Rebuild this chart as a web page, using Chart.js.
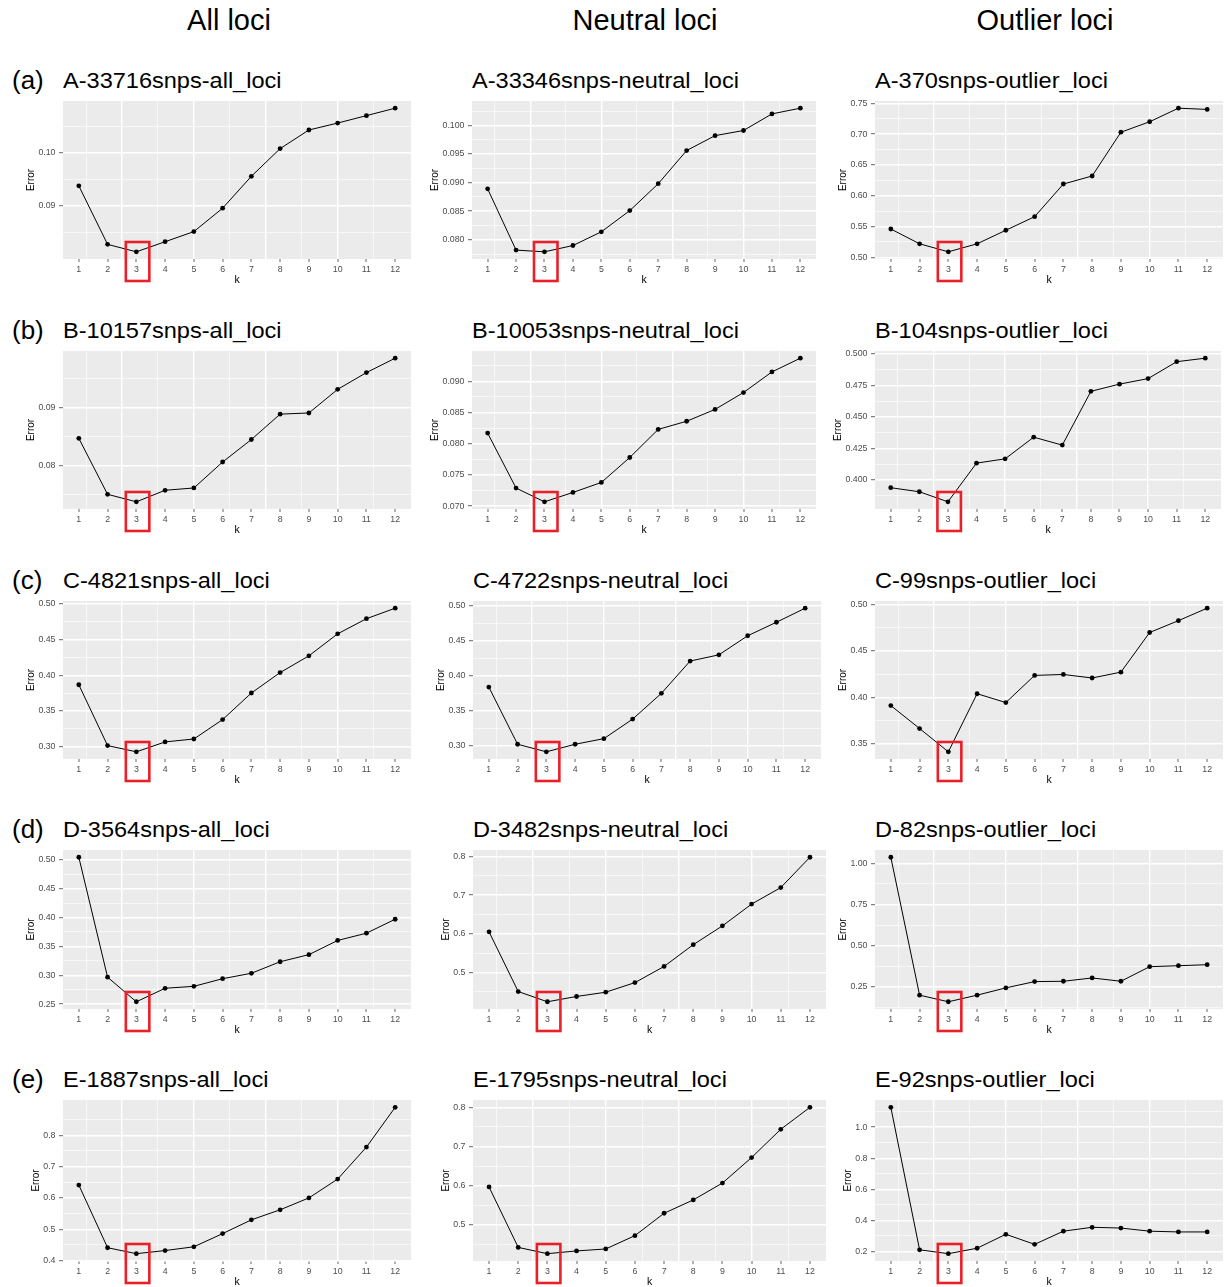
<!DOCTYPE html>
<html>
<head>
<meta charset="utf-8">
<script src="https://cdn.jsdelivr.net/npm/chart.js@4.4.1/dist/chart.umd.min.js"></script>
<style>
  html, body { margin: 0; padding: 0; background: #fff; }
  body { width: 1228px; height: 1287px; position: relative; overflow: hidden;
         font-family: "Liberation Sans", Arial, Helvetica, sans-serif; color: #000; }
  .col-head { position: absolute; font-size: 29px; line-height: 29px; white-space: nowrap; transform: translateX(-50%); }
  .row-lab { position: absolute; font-size: 26px; line-height: 26px; white-space: nowrap; }
  .ptitle { position: absolute; font-size: 22px; line-height: 22px; white-space: nowrap;
            transform-origin: 0 0; transform: scaleX(1.07); }
  canvas { position: absolute; }
</style>
</head>
<body>
<script>
// ---- data -------------------------------------------------------------
const kValues = [1, 2, 3, 4, 5, 6, 7, 8, 9, 10, 11, 12];
const highlightK = 3;

const columnHeads = ['All loci', 'Neutral loci', 'Outlier loci'];
const rowLabels = ['(a)', '(b)', '(c)', '(d)', '(e)'];

const errA_all     = [0.0938, 0.0828, 0.0814, 0.0833, 0.0852, 0.0896, 0.0956, 0.1008, 0.1043, 0.1056, 0.1070, 0.1084];
const errA_neutral = [0.0889, 0.0782, 0.0779, 0.0790, 0.0814, 0.0851, 0.0898, 0.0956, 0.0982, 0.0991, 0.1020, 0.1030];
const errA_outlier = [0.546, 0.522, 0.509, 0.522, 0.544, 0.566, 0.619, 0.632, 0.703, 0.720, 0.742, 0.740];

const errB_all     = [0.0847, 0.0750, 0.0737, 0.0757, 0.0761, 0.0806, 0.0845, 0.0889, 0.0891, 0.0932, 0.0961, 0.0986];
const errB_neutral = [0.0817, 0.0729, 0.0707, 0.0722, 0.0738, 0.0778, 0.0823, 0.0836, 0.0855, 0.0882, 0.0915, 0.0937];
const errB_outlier = [0.3938, 0.3906, 0.3826, 0.4133, 0.4167, 0.4339, 0.4276, 0.4703, 0.4760, 0.4804, 0.4938, 0.4966];

const errC_all     = [0.3867, 0.3018, 0.2931, 0.3069, 0.3110, 0.3381, 0.3752, 0.4037, 0.4271, 0.4578, 0.4789, 0.4936];
const errC_neutral = [0.3836, 0.3019, 0.2911, 0.3019, 0.3099, 0.3378, 0.3746, 0.4207, 0.4296, 0.4568, 0.4761, 0.4962];
const errC_outlier = [0.3912, 0.3665, 0.3415, 0.4039, 0.3944, 0.4236, 0.4246, 0.4208, 0.4271, 0.4697, 0.4824, 0.4958];

const errD_all     = [0.5046, 0.2966, 0.2540, 0.2774, 0.2808, 0.2940, 0.3034, 0.3234, 0.3357, 0.3603, 0.3729, 0.3971];
const errD_neutral = [0.6051, 0.4504, 0.4239, 0.4376, 0.4487, 0.4735, 0.5154, 0.5718, 0.6205, 0.6769, 0.7197, 0.7983];
const errD_outlier = [1.038, 0.1976, 0.1573, 0.1976, 0.2419, 0.2802, 0.2823, 0.3024, 0.2823, 0.371, 0.377, 0.3831];

const errE_all     = [0.641, 0.441, 0.422, 0.432, 0.444, 0.486, 0.530, 0.562, 0.600, 0.660, 0.762, 0.889];
const errE_neutral = [0.597, 0.443, 0.427, 0.434, 0.439, 0.473, 0.530, 0.564, 0.607, 0.672, 0.744, 0.800];
const errE_outlier = [1.128, 0.210, 0.185, 0.220, 0.310, 0.245, 0.330, 0.355, 0.350, 0.330, 0.325, 0.325];

// y-axis tick labels of each panel
const ticksA_all     = ['0.09', '0.10'];
const ticksA_neutral = ['0.080', '0.085', '0.090', '0.095', '0.100'];
const ticksA_outlier = ['0.50', '0.55', '0.60', '0.65', '0.70', '0.75'];
const ticksB_all     = ['0.08', '0.09'];
const ticksB_neutral = ['0.070', '0.075', '0.080', '0.085', '0.090'];
const ticksB_outlier = ['0.400', '0.425', '0.450', '0.475', '0.500'];
const ticksC_all     = ['0.30', '0.35', '0.40', '0.45', '0.50'];
const ticksC_neutral = ['0.30', '0.35', '0.40', '0.45', '0.50'];
const ticksC_outlier = ['0.35', '0.40', '0.45', '0.50'];
const ticksD_all     = ['0.25', '0.30', '0.35', '0.40', '0.45', '0.50'];
const ticksD_neutral = ['0.5', '0.6', '0.7', '0.8'];
const ticksD_outlier = ['0.25', '0.50', '0.75', '1.00'];
const ticksE_all     = ['0.4', '0.5', '0.6', '0.7', '0.8'];
const ticksE_neutral = ['0.5', '0.6', '0.7', '0.8'];
const ticksE_outlier = ['0.2', '0.4', '0.6', '0.8', '1.0'];

// vertical grid (panel background lines along k)
const kGridMajor = [2.5, 5, 7.5, 10];
const kGridMinor = [1.25, 3.75, 6.25, 8.75, 11.25];

const panels = [
  { title: 'A-33716snps-all_loci',     values: errA_all,     yTicks: ticksA_all },
  { title: 'A-33346snps-neutral_loci', values: errA_neutral, yTicks: ticksA_neutral },
  { title: 'A-370snps-outlier_loci',   values: errA_outlier, yTicks: ticksA_outlier },
  { title: 'B-10157snps-all_loci',     values: errB_all,     yTicks: ticksB_all },
  { title: 'B-10053snps-neutral_loci', values: errB_neutral, yTicks: ticksB_neutral },
  { title: 'B-104snps-outlier_loci',   values: errB_outlier, yTicks: ticksB_outlier },
  { title: 'C-4821snps-all_loci',      values: errC_all,     yTicks: ticksC_all },
  { title: 'C-4722snps-neutral_loci',  values: errC_neutral, yTicks: ticksC_neutral },
  { title: 'C-99snps-outlier_loci',    values: errC_outlier, yTicks: ticksC_outlier },
  { title: 'D-3564snps-all_loci',      values: errD_all,     yTicks: ticksD_all },
  { title: 'D-3482snps-neutral_loci',  values: errD_neutral, yTicks: ticksD_neutral },
  { title: 'D-82snps-outlier_loci',    values: errD_outlier, yTicks: ticksD_outlier },
  { title: 'E-1887snps-all_loci',      values: errE_all,     yTicks: ticksE_all },
  { title: 'E-1795snps-neutral_loci',  values: errE_neutral, yTicks: ticksE_neutral },
  { title: 'E-92snps-outlier_loci',    values: errE_outlier, yTicks: ticksE_outlier },
];

// ---- layout -----------------------------------------------------------
const rowTop = [101, 351, 601, 850, 1100];
const rowBottom = [259, 509, 759, 1009, 1261];
const colSpan = [
  [[63, 413], [472, 818], [875, 1225]],
  [[63, 413], [472, 818], [875, 1223]],
  [[63, 413], [473, 823], [875, 1225]],
  [[63, 413], [473, 828], [875, 1225]],
  [[63, 413], [473, 828], [875, 1225]],
];
const headCenter = [229, 645, 1045];
const AXIS_W = 45, AXIS_H = 30, PAD_T = 10, PAD_R = 2;

const FONT = '"Liberation Sans", Arial, Helvetica, sans-serif';
const PANEL_BG = '#EBEBEB';
const TICK_TEXT = '#4D4D4D';
const TICK_MARK = '#555555';

Chart.defaults.font.family = FONT;

// ---- helpers ----------------------------------------------------------
function paddedRange(vals) {
  const lo = Math.min(...vals), hi = Math.max(...vals);
  const pad = (hi - lo) * 0.05;
  return [lo - pad, hi + pad];
}

const panelBackground = {
  id: 'panelBackground',
  beforeDraw(chart) {
    const { ctx, chartArea: a } = chart;
    ctx.save();
    ctx.fillStyle = PANEL_BG;
    ctx.fillRect(a.left, a.top, a.right - a.left, a.bottom - a.top);
    ctx.restore();
  }
};

const bestKBox = {
  id: 'bestKBox',
  afterDraw(chart) {
    const { ctx, chartArea: a, scales } = chart;
    const x = scales.x.getPixelForValue(highlightK);
    ctx.save();
    ctx.strokeStyle = '#E8202A';
    ctx.lineWidth = 2.6;
    ctx.strokeRect(x - 10.5, a.bottom - 17, 23.5, 39);
    ctx.restore();
  }
};

function addText(cls, text, left, top) {
  const d = document.createElement('div');
  d.className = cls;
  d.textContent = text;
  d.style.left = left + 'px';
  d.style.top = top + 'px';
  document.body.appendChild(d);
}

// ---- headings -----------------------------------------------------------
columnHeads.forEach((t, c) => addText('col-head', t, headCenter[c], 5.5));
rowLabels.forEach((t, r) => addText('row-lab', t, 12, rowTop[r] - 34));

// ---- panels -----------------------------------------------------------
panels.forEach((p, i) => {
  const r = Math.floor(i / 3), c = i % 3;
  const [L, R] = colSpan[r][c];
  const T = rowTop[r], B = rowBottom[r];

  addText('ptitle', p.title, L, T - 30.6);

  const cv = document.createElement('canvas');
  cv.width = R - L + AXIS_W + PAD_R;
  cv.height = B - T + PAD_T + AXIS_H;
  cv.style.left = (L - AXIS_W) + 'px';
  cv.style.top = (T - PAD_T) + 'px';
  cv.style.width = cv.width + 'px';
  cv.style.height = cv.height + 'px';
  document.body.appendChild(cv);

  const [ymin, ymax] = paddedRange(p.values);
  const majors = p.yTicks.map(parseFloat);
  const step = majors[1] - majors[0];
  const minors = [];
  for (let j = -1; j < majors.length; j++) {
    const v = majors[0] + (j + 0.5) * step;
    if (v > ymin && v < ymax) minors.push(v);
  }
  const nMaj = majors.length;
  const maxLen = Math.max(...p.yTicks.map(s => s.length));
  const nK = kValues.length;

  new Chart(cv, {
    type: 'line',
    data: {
      datasets: [{
        data: p.values.map((v, j) => ({ x: kValues[j], y: v })),
        borderColor: '#000',
        borderWidth: 1,
        pointRadius: 2.4,
        pointBackgroundColor: '#000',
        pointBorderWidth: 0,
        tension: 0
      }]
    },
    options: {
      responsive: false,
      animation: false,
      devicePixelRatio: 1,
      layout: { padding: { left: 0, top: PAD_T, right: PAD_R, bottom: 0 } },
      plugins: { legend: { display: false }, tooltip: { enabled: false } },
      scales: {
        x: {
          type: 'linear',
          min: 0.45,
          max: 12.55,
          bounds: 'data',
          afterBuildTicks: s => {
            s.ticks = kValues.map(v => ({ value: v }))
              .concat(kGridMajor.map(v => ({ value: v })))
              .concat(kGridMinor.map(v => ({ value: v })));
          },
          afterFit: s => { s.height = AXIS_H; },
          border: { display: false },
          grid: {
            drawOnChartArea: true,
            drawTicks: true,
            tickLength: 3,
            tickWidth: 0.9,
            color: ctx => ctx.index < nK ? 'rgba(0,0,0,0)' : '#FFFFFF',
            lineWidth: ctx => ctx.index < nK ? 0 : (ctx.index < nK + kGridMajor.length ? 1.4 : 0.6),
            tickColor: ctx => ctx.index < nK ? TICK_MARK : 'rgba(0,0,0,0)'
          },
          ticks: {
            autoSkip: false,
            maxRotation: 0,
            minRotation: 0,
            padding: 2.5,
            color: TICK_TEXT,
            font: { size: 8.8 },
            callback: (v, idx) => idx < nK ? String(kValues[idx]) : ''
          },
          title: {
            display: true,
            text: 'k',
            color: '#000',
            font: { size: 10.5 },
            padding: { top: 0, bottom: 3 }
          }
        },
        y: {
          type: 'linear',
          min: ymin,
          max: ymax,
          bounds: 'data',
          afterBuildTicks: s => {
            s.ticks = majors.map(v => ({ value: v })).concat(minors.map(v => ({ value: v })));
          },
          afterFit: s => { s.width = AXIS_W; },
          border: { display: false },
          grid: {
            drawOnChartArea: true,
            drawTicks: true,
            tickLength: 4,
            tickWidth: 0.9,
            color: '#FFFFFF',
            lineWidth: ctx => ctx.index < nMaj ? 1.4 : 0.6,
            tickColor: ctx => ctx.index < nMaj ? TICK_MARK : 'rgba(0,0,0,0)'
          },
          ticks: {
            autoSkip: false,
            padding: 3.5,
            color: TICK_TEXT,
            font: { size: 8.8 },
            callback: (v, idx) => idx < nMaj ? p.yTicks[idx] : ''
          },
          title: {
            display: true,
            text: 'Error',
            color: '#000',
            font: { size: 10 },
            padding: { top: 2.5 + (5 - maxLen) * 5, bottom: 0 }
          }
        }
      }
    },
    plugins: [panelBackground, bestKBox]
  });
});
</script>
</body>
</html>
